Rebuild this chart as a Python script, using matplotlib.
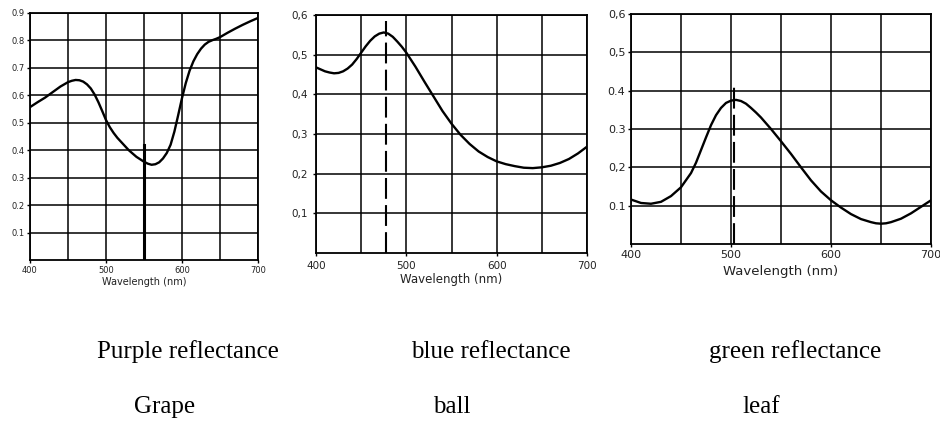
import numpy as np
import matplotlib.pyplot as plt

# Reflectance curves (wavelength in nm)
grape_nm = [400, 410, 420, 430, 440, 450, 455, 460, 465, 470, 475, 480, 485, 490, 495,
            500, 505, 510, 515, 520, 530, 540, 550, 555, 560, 565, 570, 575, 580, 585,
            590, 595, 600, 605, 610, 615, 620, 625, 630, 635, 640, 645, 650, 660, 670,
            680, 690, 700]
grape_r = [0.557, 0.575, 0.592, 0.612, 0.632, 0.648, 0.653, 0.656, 0.655, 0.650, 0.640,
           0.625, 0.603, 0.575, 0.543, 0.510, 0.484, 0.463, 0.445, 0.430, 0.400, 0.376,
           0.358, 0.351, 0.347, 0.349, 0.356, 0.370, 0.390, 0.420, 0.468, 0.528, 0.590,
           0.645, 0.690, 0.724, 0.750, 0.770, 0.785, 0.795, 0.801, 0.806, 0.812, 0.828,
           0.843, 0.857, 0.870, 0.882]

ball_nm = [400, 410, 415, 420, 425, 430, 435, 440, 445, 450, 455, 460, 465, 470, 475,
           480, 485, 490, 495, 500, 510, 520, 530, 540, 550, 560, 570, 580, 590, 600,
           610, 620, 630, 640, 650, 660, 670, 680, 690, 700]
ball_r = [0.468, 0.458, 0.455, 0.453, 0.454, 0.458, 0.465, 0.475, 0.489, 0.505, 0.521,
          0.535, 0.546, 0.553, 0.556, 0.553, 0.545, 0.533, 0.520, 0.505, 0.470, 0.432,
          0.395, 0.358, 0.326, 0.298, 0.275, 0.256, 0.242, 0.231, 0.224, 0.219, 0.215,
          0.214, 0.216, 0.220, 0.227, 0.237, 0.251, 0.268]

leaf_nm = [400, 410, 420, 430, 440, 450, 460, 465, 470, 475, 480, 485, 490, 495, 500,
           505, 510, 515, 520, 525, 530, 540, 550, 560, 570, 580, 590, 600, 610, 620,
           630, 640, 645, 650, 655, 660, 670, 680, 690, 700]
leaf_r = [0.116, 0.107, 0.105, 0.110, 0.125, 0.148, 0.185, 0.212, 0.245, 0.278, 0.310,
          0.336, 0.355, 0.368, 0.374, 0.376, 0.373, 0.366, 0.355, 0.343, 0.330, 0.300,
          0.268, 0.235, 0.200, 0.166, 0.137, 0.114, 0.095, 0.078, 0.065, 0.057, 0.054,
          0.053, 0.054, 0.057, 0.066, 0.080, 0.097, 0.114]

grape_yticks = ["0.1", "0.2", "0.3", "0.4", "0.5", "0.6", "0.7", "0.8", "0.9"]
ball_yticks = ["0,1", "0,2", "0,3", "0,4", "0,5", "0,6"]
leaf_yticks = ["0.1", "0,2", "0.3", "0.4", "0,5", "0,6"]
xticks = [400, 500, 600, 700]

top_labels = ["Purple reflectance", "blue reflectance", "green reflectance"]
bottom_labels = ["Grape", "ball", "leaf"]

fig = plt.figure(figsize=(9.4, 4.23), dpi=100)
W, H = 940, 423


def px_axes(left, top, right, bottom):
    return fig.add_axes([left / W, 1 - bottom / H, (right - left) / W, (bottom - top) / H])


def setup(ax, ymax, ylabels, tick_fs, label_fs, pad, labelpad):
    ax.set_xlim(400, 700)
    ax.set_ylim(0, ymax)
    ax.set_xticks(xticks)
    ax.set_xticks([450, 550, 650], minor=True)
    ax.set_yticks([0.1 * (i + 1) for i in range(len(ylabels))])
    ax.set_yticklabels(ylabels)
    ax.grid(True, which='both', color='black', lw=1.1)
    ax.tick_params(which='both', length=2, width=1, color='black', labelsize=tick_fs,
                   pad=pad, labelcolor='#222222')
    ax.tick_params(axis='x', which='minor', length=0)
    for s in ax.spines.values():
        s.set_linewidth(1.3)
    ax.set_xlabel('Wavelength (nm)', fontsize=label_fs, labelpad=labelpad, color='#222222')


ax1 = px_axes(30, 13, 258, 260)
ax1.plot(grape_nm, grape_r, color='black', lw=1.7)
ax1.plot([550, 550], [0, 0.42], color='black', lw=2.2)
setup(ax1, 0.9, grape_yticks, 6, 7, 2, 2)

ax2 = px_axes(316, 15, 587, 253)
ax2.plot(ball_nm, ball_r, color='black', lw=1.7)
ax2.plot([478, 478], [0, 0.585], color='black', lw=1.5, dashes=(10, 3))
setup(ax2, 0.6, ball_yticks, 7.5, 8.5, 4, 1)

ax3 = px_axes(631, 14, 931, 244)
ax3.plot(leaf_nm, leaf_r, color='black', lw=1.7)
ax3.plot([503, 503], [0, 0.41], color='black', lw=1.5, dashes=(10, 3))
setup(ax3, 0.6, leaf_yticks, 8, 9.5, 2, 4)

# captions under the panels
top_x = [188, 491, 795]
bot_x = [165, 452, 761]
for lab, x in zip(top_labels, top_x):
    fig.text(x / W, 1 - 358 / H, lab, ha='center', va='baseline',
             family='Liberation Serif', fontsize=18)
for lab, x in zip(bottom_labels, bot_x):
    fig.text(x / W, 1 - 413 / H, lab, ha='center', va='baseline',
             family='Liberation Serif', fontsize=18)

plt.savefig('out.png', dpi=100)
